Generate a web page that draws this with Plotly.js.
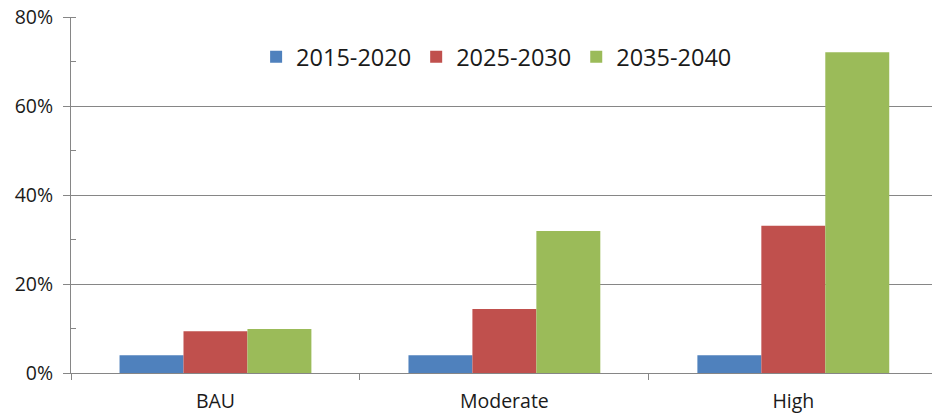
<!DOCTYPE html>
<html>
<head>
<meta charset="utf-8">
<script src="https://cdn.plot.ly/plotly-3.0.1.min.js"></script>
<style>html,body{margin:0;padding:0;background:#fff;}#chart{width:932px;height:415px;}</style>
</head>
<body>
<div id="chart"></div>
<script>
const categories = ["BAU", "Moderate", "High"];
const seriesNames = ["2015-2020", "2025-2030", "2035-2040"];
const values2015_2020 = [0.040, 0.040, 0.040];
const values2025_2030 = [0.094, 0.144, 0.331];
const values2035_2040 = [0.099, 0.319, 0.721];
const yTickVals = [0, 0.2, 0.4, 0.6, 0.8];
const yTickText = ["0%", "20%", "40%", "60%", "80%"];
const colors = ["#4F81BD", "#C0504D", "#9BBB59"];

const allValues = [values2015_2020, values2025_2030, values2035_2040];
const traces = allValues.map((v, i) => ({
  type: "bar",
  name: seriesNames[i],
  x: categories,
  y: v,
  marker: {color: colors[i], line: {width: 0}},
  hoverinfo: "none"
}));

const gridColor = "#868686";
const layout = {
  width: 932,
  height: 415,
  margin: {l: 71, r: 0, t: 17, b: 42, pad: 0},
  paper_bgcolor: "#fff",
  plot_bgcolor: "#fff",
  font: {family: "Open Sans, sans-serif", color: "#1a1a1a", size: 19.5},
  barmode: "group",
  bargap: 0.336,
  bargroupgap: 0,
  showlegend: true,
  legend: {
    orientation: "h",
    x: 0.215, xanchor: "left",
    y: 0.888, yanchor: "middle",
    font: {size: 23.5, color: "#1a1a1a"},
    bgcolor: "rgba(0,0,0,0)",
    traceorder: "normal"
  },
  xaxis: {
    type: "category",
    range: [-0.5, 2.48],
    showline: true,
    linecolor: gridColor,
    linewidth: 1,
    ticks: "outside",
    tickson: "boundaries",
    ticklen: 6,
    tickcolor: gridColor,
    showgrid: false,
    zeroline: false,
    ticklabelstandoff: 11,
    tickfont: {size: 19.5, color: "#1a1a1a"}
  },
  yaxis: {
    range: [0, 0.8],
    tickvals: yTickVals,
    ticktext: yTickText,
    showline: true,
    linecolor: gridColor,
    linewidth: 1,
    ticks: "outside",
    ticklen: 7,
    tickcolor: gridColor,
    showgrid: true,
    gridcolor: gridColor,
    gridwidth: 1,
    zeroline: false,
    ticklabelstandoff: 6,
    tickfont: {size: 19.5, color: "#1a1a1a"},
    minor: {dtick: 0.1, tick0: 0, ticks: "inside", ticklen: 5, tickcolor: gridColor, showgrid: false}
  }
};

Plotly.newPlot("chart", traces, layout, {staticPlot: true, displayModeBar: false});
</script>
</body>
</html>
